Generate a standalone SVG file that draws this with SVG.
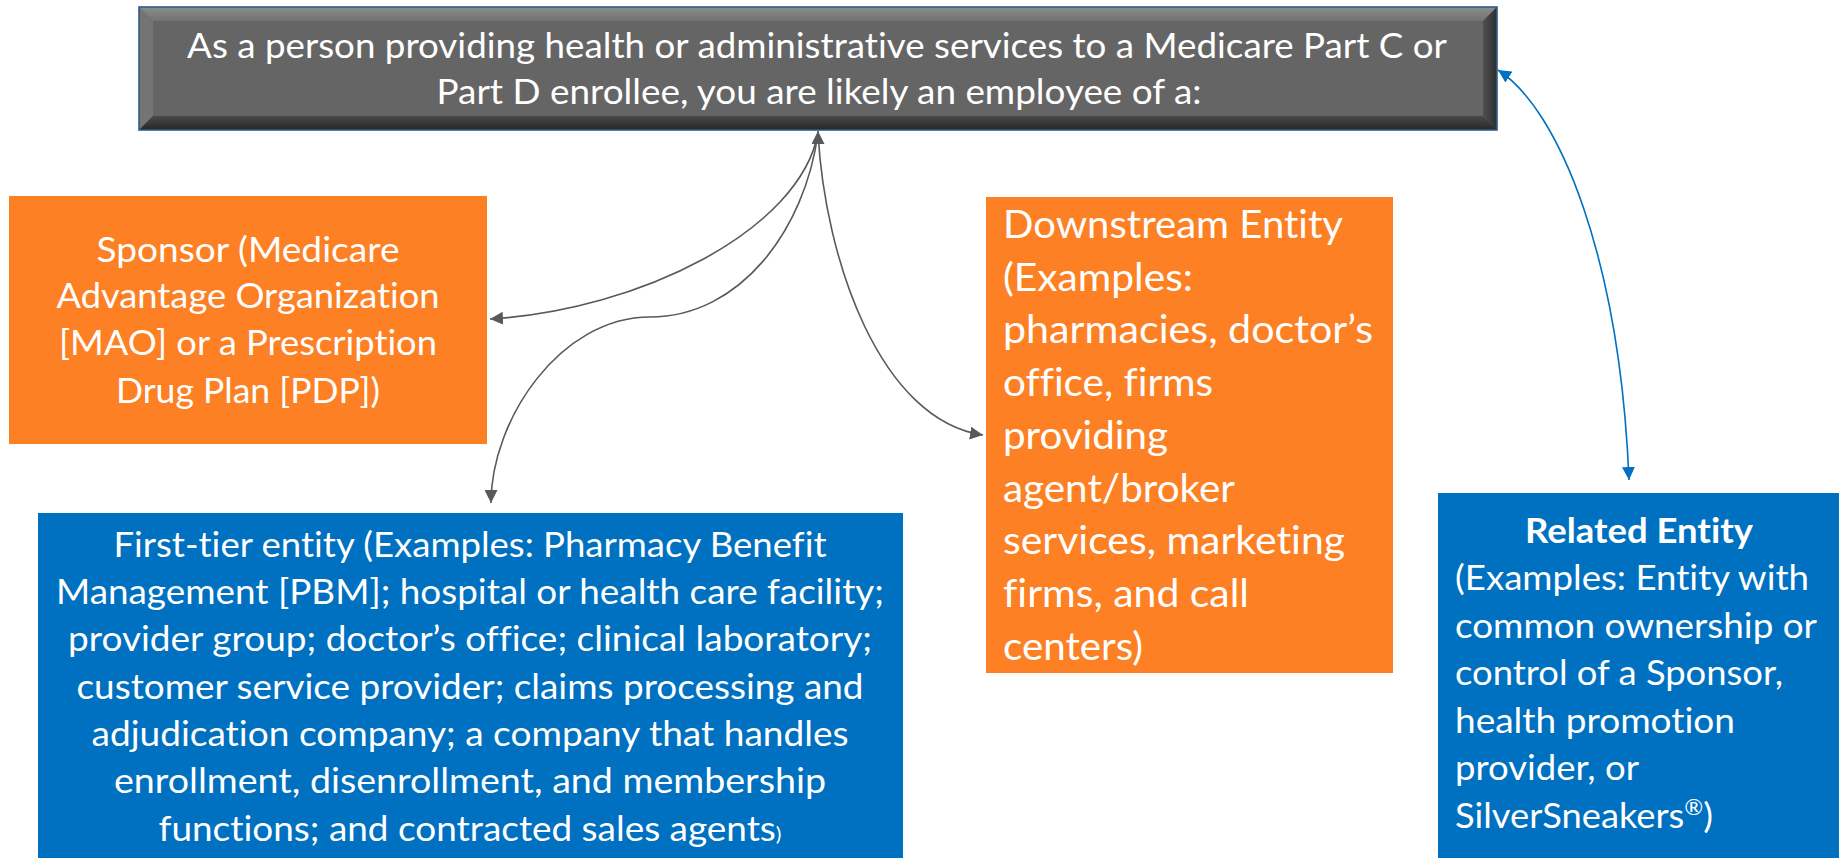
<svg xmlns="http://www.w3.org/2000/svg" width="1839" height="858" viewBox="0 0 1839 858">
  <style>
    .t { font-family: Lato, "Open Sans", "Liberation Sans", sans-serif; fill: #ffffff; font-size: 35px; font-variant-ligatures: none; font-feature-settings: "liga" 0, "clig" 0; }
    .big { font-size: 39px; }
    .b { font-weight: bold; }
    .mid { text-anchor: middle; }
    .orange { fill: #fd8024; }
    .blue { fill: #0070c0; }
    .conn { fill: none; stroke: #595959; stroke-width: 1.6; }
    .connb { fill: none; stroke: #0070c0; stroke-width: 1.6; }
  </style>
  <defs>
    <marker id="ag" viewBox="0 0 12 12" refX="12" refY="6" markerWidth="13" markerHeight="13" markerUnits="userSpaceOnUse" orient="auto-start-reverse">
      <path d="M0,0 L12,6 L0,12 z" fill="#595959"/>
    </marker>
    <marker id="ab" viewBox="0 0 12 12" refX="12" refY="6" markerWidth="13" markerHeight="13" markerUnits="userSpaceOnUse" orient="auto-start-reverse">
      <path d="M0,0 L12,6 L0,12 z" fill="#0070c0"/>
    </marker>
    <linearGradient id="gtop" x1="0" y1="0" x2="0" y2="1">
      <stop offset="0" stop-color="#8c8c8c"/>
      <stop offset="1" stop-color="#727272"/>
    </linearGradient>
    <linearGradient id="gbot" x1="0" y1="0" x2="0" y2="1">
      <stop offset="0" stop-color="#4a4a4a"/>
      <stop offset="1" stop-color="#262626"/>
    </linearGradient>
    <linearGradient id="gright" x1="0" y1="0" x2="1" y2="0">
      <stop offset="0" stop-color="#505050"/>
      <stop offset="1" stop-color="#2e2e2e"/>
    </linearGradient>
  </defs>

  <g id="top-node">
    <rect x="139" y="7" width="1358" height="123" fill="#656565"/>
    <polygon points="139,7 1497,7 1483,21 153,21" fill="url(#gtop)"/>
    <polygon points="139,7 153,21 153,116 139,130" fill="#747474"/>
    <polygon points="139,130 153,116 1483,116 1497,130" fill="url(#gbot)"/>
    <polygon points="1497,7 1483,21 1483,116 1497,130" fill="url(#gright)"/>
    <rect x="139" y="7" width="1358" height="123" fill="none" stroke="#2f5d88" stroke-width="1.6"/>
    <text class="t mid" x="817" y="58" textLength="1260" lengthAdjust="spacingAndGlyphs">As a person providing health or administrative services to a Medicare Part C or</text>
    <text class="t mid" x="819" y="104" textLength="765" lengthAdjust="spacingAndGlyphs">Part D enrollee, you are likely an employee of a:</text>
  </g>

  <g id="sponsor">
    <rect class="orange" x="9" y="196" width="478" height="248"/>
    <text class="t mid" x="248" y="262" textLength="303" lengthAdjust="spacingAndGlyphs">Sponsor (Medicare</text>
    <text class="t mid" x="248" y="308" textLength="383" lengthAdjust="spacingAndGlyphs">Advantage Organization</text>
    <text class="t mid" x="248" y="355" textLength="378" lengthAdjust="spacingAndGlyphs">[MAO] or a Prescription</text>
    <text class="t mid" x="248" y="403" textLength="264" lengthAdjust="spacingAndGlyphs">Drug Plan [PDP])</text>
  </g>

  <g id="first-tier">
    <rect class="blue" x="38" y="513" width="865" height="345"/>
    <text class="t mid" x="470" y="557" textLength="713" lengthAdjust="spacingAndGlyphs">First-tier entity (Examples: Pharmacy Benefit</text>
    <text class="t mid" x="470" y="604" textLength="828" lengthAdjust="spacingAndGlyphs">Management [PBM]; hospital or health care facility;</text>
    <text class="t mid" x="470" y="651" textLength="804" lengthAdjust="spacingAndGlyphs">provider group; doctor’s office; clinical laboratory;</text>
    <text class="t mid" x="470" y="699" textLength="787" lengthAdjust="spacingAndGlyphs">customer service provider; claims processing and</text>
    <text class="t mid" x="470" y="746" textLength="757" lengthAdjust="spacingAndGlyphs">adjudication company; a company that handles</text>
    <text class="t mid" x="470" y="793" textLength="712" lengthAdjust="spacingAndGlyphs">enrollment, disenrollment, and membership</text>
    <text class="t mid" x="470" y="841" textLength="623" lengthAdjust="spacingAndGlyphs">functions; and contracted sales agents<tspan font-size="20">)</tspan></text>
  </g>

  <g id="downstream">
    <rect class="orange" x="986" y="197" width="407" height="476"/>
    <text class="t big" x="1003" y="238" textLength="340" lengthAdjust="spacingAndGlyphs">Downstream Entity</text>
    <text class="t big" x="1003" y="291" textLength="190" lengthAdjust="spacingAndGlyphs">(Examples:</text>
    <text class="t big" x="1003" y="343" textLength="370" lengthAdjust="spacingAndGlyphs">pharmacies, doctor’s</text>
    <text class="t big" x="1003" y="396" textLength="210" lengthAdjust="spacingAndGlyphs">office, firms</text>
    <text class="t big" x="1003" y="449" textLength="165" lengthAdjust="spacingAndGlyphs">providing</text>
    <text class="t big" x="1003" y="502" textLength="232" lengthAdjust="spacingAndGlyphs">agent/broker</text>
    <text class="t big" x="1003" y="554" textLength="342" lengthAdjust="spacingAndGlyphs">services, marketing</text>
    <text class="t big" x="1003" y="607" textLength="246" lengthAdjust="spacingAndGlyphs">firms, and call</text>
    <text class="t big" x="1003" y="660" textLength="140" lengthAdjust="spacingAndGlyphs">centers)</text>
  </g>

  <g id="related">
    <rect class="blue" x="1438" y="493" width="401" height="365"/>
    <text class="t b mid" x="1639" y="543" textLength="228" lengthAdjust="spacingAndGlyphs">Related Entity</text>
    <text class="t" x="1455" y="590" textLength="354" lengthAdjust="spacingAndGlyphs">(Examples: Entity with</text>
    <text class="t" x="1455" y="638" textLength="362" lengthAdjust="spacingAndGlyphs">common ownership or</text>
    <text class="t" x="1455" y="685" textLength="328" lengthAdjust="spacingAndGlyphs">control of a Sponsor,</text>
    <text class="t" x="1455" y="733" textLength="280" lengthAdjust="spacingAndGlyphs">health promotion</text>
    <text class="t" x="1455" y="780" textLength="184" lengthAdjust="spacingAndGlyphs">provider, or</text>
    <text class="t" x="1455" y="828" textLength="258" lengthAdjust="spacingAndGlyphs">SilverSneakers<tspan font-size="22" dy="-13">®</tspan><tspan dy="13">)</tspan></text>
  </g>

  <g id="connectors">
    <path class="conn" d="M818,133 C800,230 640,310 490,319" marker-end="url(#ag)"/>
    <path class="conn" d="M818,131 L818,133 C805,230 740,317 650,317 C560,317 491,420 491,503" marker-start="url(#ag)" marker-end="url(#ag)"/>
    <path class="conn" d="M818,133 C825,260 880,420 983,435" marker-end="url(#ag)"/>
    <path class="connb" d="M1498,70 C1560,110 1620,260 1629,480" marker-start="url(#ab)" marker-end="url(#ab)"/>
  </g>
</svg>
